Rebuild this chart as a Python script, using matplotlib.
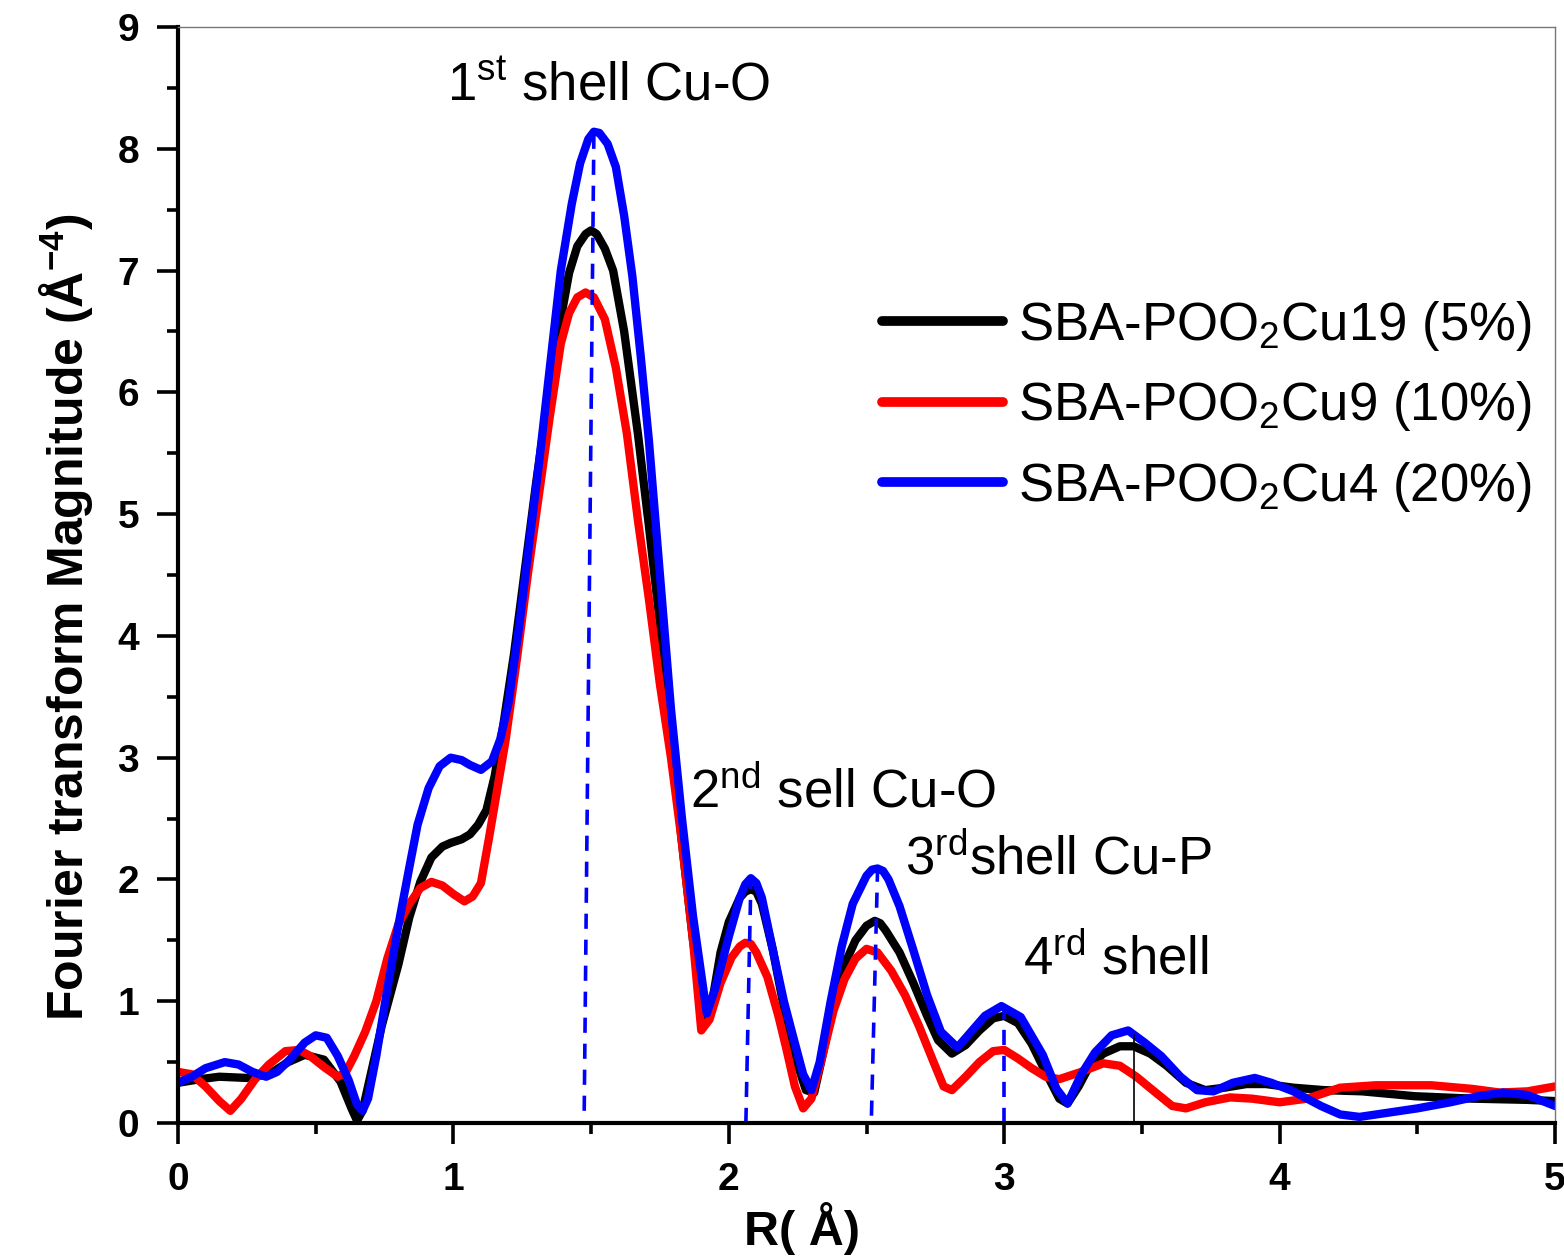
import matplotlib
matplotlib.use("Agg")
import matplotlib.pyplot as plt
from matplotlib.ticker import MultipleLocator

plt.rcParams['font.family'] = ['Liberation Sans', 'DejaVu Sans']
plt.rcParams['mathtext.fontset'] = 'custom'
plt.rcParams['mathtext.rm'] = 'Liberation Sans'
plt.rcParams['mathtext.it'] = 'Liberation Sans'
plt.rcParams['mathtext.bf'] = 'Liberation Sans:bold'
plt.rcParams['mathtext.default'] = 'regular'

# ---------------- data ----------------
labels = ['SBA-POO$_2$Cu19 (5%)', 'SBA-POO$_2$Cu9 (10%)', 'SBA-POO$_2$Cu4 (20%)']
colors = ['#000000', '#ff0000', '#0000ff']

r_black = [0.00, 0.08, 0.15, 0.25, 0.33, 0.40, 0.46, 0.53, 0.59, 0.63, 0.65, 0.67, 0.70, 0.74, 0.77,
           0.80, 0.84, 0.88, 0.92, 0.96, 0.99, 1.03, 1.06, 1.09, 1.12, 1.15, 1.18, 1.22, 1.26, 1.30,
           1.34, 1.38, 1.42, 1.45, 1.48, 1.50, 1.52, 1.55, 1.58, 1.62, 1.67, 1.71, 1.75, 1.79, 1.83,
           1.87, 1.91, 1.94, 1.97, 2.00, 2.04, 2.06, 2.08, 2.10, 2.12, 2.16, 2.20, 2.24, 2.28, 2.31,
           2.34, 2.38, 2.42, 2.46, 2.50, 2.53, 2.55, 2.57, 2.62, 2.67, 2.72, 2.76, 2.81, 2.86, 2.91,
           2.96, 3.00, 3.05, 3.10, 3.15, 3.20, 3.23, 3.27, 3.31, 3.36, 3.42, 3.47, 3.53, 3.59, 3.66,
           3.73, 3.80, 3.88, 3.95, 4.05, 4.16, 4.30, 4.49, 4.70, 4.90, 5.00]
m_black = [0.33, 0.36, 0.38, 0.37, 0.40, 0.50, 0.56, 0.52, 0.34, 0.12, 0.02, 0.10, 0.40, 0.80, 1.05,
           1.30, 1.69, 1.98, 2.18, 2.27, 2.30, 2.33, 2.37, 2.45, 2.57, 2.85, 3.25, 3.85, 4.55, 5.25,
           5.90, 6.48, 6.98, 7.20, 7.30, 7.33, 7.30, 7.18, 7.00, 6.50, 5.66, 4.90, 4.10, 3.20, 2.30,
           1.50, 0.87, 1.00, 1.40, 1.65, 1.85, 1.90, 1.92, 1.90, 1.80, 1.42, 0.95, 0.55, 0.27, 0.25,
           0.55, 0.98, 1.30, 1.50, 1.62, 1.66, 1.64, 1.58, 1.40, 1.15, 0.88, 0.68, 0.57, 0.64, 0.76,
           0.86, 0.88, 0.82, 0.65, 0.42, 0.20, 0.16, 0.30, 0.47, 0.57, 0.63, 0.63, 0.57, 0.47, 0.33,
           0.27, 0.29, 0.32, 0.32, 0.29, 0.27, 0.26, 0.22, 0.20, 0.19, 0.18]

r_red = [0.00, 0.05, 0.10, 0.15, 0.19, 0.23, 0.28, 0.33, 0.39, 0.44, 0.48, 0.53, 0.58, 0.61, 0.64,
         0.68, 0.72, 0.76, 0.80, 0.84, 0.88, 0.92, 0.96, 1.00, 1.04, 1.07, 1.10, 1.13, 1.16, 1.19,
         1.23, 1.27, 1.31, 1.35, 1.39, 1.42, 1.45, 1.48, 1.51, 1.55, 1.59, 1.63, 1.67, 1.71, 1.75,
         1.79, 1.83, 1.87, 1.90, 1.93, 1.97, 2.01, 2.04, 2.06, 2.08, 2.10, 2.14, 2.18, 2.21, 2.24,
         2.27, 2.30, 2.34, 2.38, 2.42, 2.46, 2.50, 2.54, 2.59, 2.64, 2.69, 2.74, 2.78, 2.81, 2.86,
         2.91, 2.96, 3.00, 3.05, 3.10, 3.15, 3.20, 3.28, 3.36, 3.42, 3.48, 3.55, 3.61, 3.66, 3.73,
         3.82, 3.90, 4.00, 4.10, 4.22, 4.35, 4.55, 4.70, 4.80, 4.90, 5.00]
m_red = [0.42, 0.40, 0.30, 0.18, 0.10, 0.20, 0.36, 0.48, 0.59, 0.60, 0.55, 0.46, 0.38, 0.42, 0.55,
         0.75, 1.00, 1.35, 1.63, 1.80, 1.93, 1.98, 1.95, 1.88, 1.82, 1.86, 1.97, 2.35, 2.75, 3.15,
         3.80, 4.50, 5.15, 5.80, 6.40, 6.65, 6.78, 6.82, 6.78, 6.60, 6.20, 5.66, 4.95, 4.30, 3.60,
         3.00, 2.30, 1.50, 0.76, 0.85, 1.15, 1.36, 1.45, 1.48, 1.47, 1.40, 1.20, 0.88, 0.60, 0.30,
         0.12, 0.20, 0.55, 0.92, 1.18, 1.35, 1.43, 1.40, 1.25, 1.05, 0.80, 0.52, 0.30, 0.27, 0.38,
         0.50, 0.59, 0.60, 0.53, 0.45, 0.38, 0.36, 0.42, 0.49, 0.47, 0.38, 0.25, 0.14, 0.12, 0.17,
         0.21, 0.20, 0.17, 0.20, 0.29, 0.31, 0.31, 0.28, 0.25, 0.26, 0.30]

r_blue = [0.00, 0.05, 0.10, 0.17, 0.22, 0.27, 0.32, 0.36, 0.41, 0.46, 0.50, 0.54, 0.58, 0.62, 0.65,
          0.67, 0.69, 0.72, 0.76, 0.80, 0.84, 0.87, 0.91, 0.95, 0.99, 1.03, 1.06, 1.10, 1.14, 1.17,
          1.20, 1.24, 1.28, 1.31, 1.35, 1.39, 1.43, 1.46, 1.49, 1.51, 1.53, 1.56, 1.59, 1.62, 1.65,
          1.68, 1.71, 1.75, 1.79, 1.83, 1.87, 1.92, 1.95, 2.00, 2.04, 2.06, 2.08, 2.10, 2.12, 2.16,
          2.20, 2.23, 2.27, 2.30, 2.33, 2.37, 2.41, 2.45, 2.50, 2.52, 2.54, 2.56, 2.58, 2.62, 2.67,
          2.72, 2.77, 2.83, 2.88, 2.93, 2.99, 3.06, 3.14, 3.19, 3.23, 3.28, 3.33, 3.39, 3.45, 3.51,
          3.57, 3.64, 3.70, 3.76, 3.83, 3.91, 3.97, 4.05, 4.15, 4.22, 4.29, 4.38, 4.50, 4.62, 4.72,
          4.81, 4.90, 5.00]
m_blue = [0.33, 0.38, 0.45, 0.50, 0.48, 0.42, 0.38, 0.42, 0.53, 0.66, 0.72, 0.70, 0.55, 0.35, 0.15,
          0.10, 0.20, 0.55, 1.10, 1.62, 2.10, 2.45, 2.75, 2.93, 3.00, 2.98, 2.94, 2.90, 2.97, 3.15,
          3.45, 4.10, 4.85, 5.40, 6.20, 7.00, 7.55, 7.88, 8.08, 8.14, 8.13, 8.04, 7.85, 7.45, 6.95,
          6.30, 5.60, 4.50, 3.40, 2.50, 1.70, 0.90, 1.10, 1.53, 1.85, 1.96, 2.01, 1.97, 1.85, 1.42,
          1.00, 0.74, 0.40, 0.27, 0.50, 1.00, 1.45, 1.80, 2.03, 2.08, 2.09, 2.07, 2.00, 1.78, 1.42,
          1.05, 0.75, 0.62, 0.75, 0.88, 0.96, 0.87, 0.56, 0.28, 0.16, 0.40, 0.58, 0.72, 0.76, 0.66,
          0.55, 0.38, 0.27, 0.26, 0.33, 0.37, 0.33, 0.26, 0.14, 0.07, 0.05, 0.08, 0.12, 0.17, 0.22,
          0.25, 0.23, 0.14]

# peak marker lines (bottom r, bottom value, top r, top value)
dash_r0 = [1.475, 2.062, 2.518, 3.000]
dash_y0 = [0.10, 0.00, 0.06, 0.00]
dash_r1 = [1.510, 2.080, 2.540, 3.000]
dash_y1 = [8.10, 1.98, 2.07, 0.93]
mark_r = 3.47
mark_top = 0.72

annot_text = ['1$^{st}$ shell Cu-O', '2$^{nd}$ sell Cu-O', '3$^{rd}$shell Cu-P', '4$^{rd}$ shell']
annot_r = [0.975, 1.86, 2.64, 3.07]
annot_y = [8.40, 2.59, 2.04, 1.22]

# ---------------- figure ----------------
fig = plt.figure(figsize=(15.64, 12.58), dpi=100)
ax = fig.add_axes([178/1564, 1 - 1123/1258, (1555-178)/1564, (1123-27)/1258])

series = [(r_black, m_black), (r_red, m_red), (r_blue, m_blue)]
for (r, m), c, lab in zip(series, colors, labels):
    ax.plot(r, m, color=c, lw=6, label=lab, solid_capstyle='round', solid_joinstyle='round')

for x0, y0, x1, y1 in zip(dash_r0, dash_y0, dash_r1, dash_y1):
    ax.plot([x0, x1], [y0, y1], color='#0000ff', lw=2.6, linestyle=(0, (4.2, 3.0)))
ax.plot([mark_r, mark_r], [0, mark_top], color='black', lw=1.2)

for t, xx, yy in zip(annot_text, annot_r, annot_y):
    ax.text(xx, yy, t, fontsize=38, ha='left', va='baseline', color='black')

ax.set_xlim(0, 5)
ax.set_ylim(0, 9)
ax.xaxis.set_major_locator(MultipleLocator(1))
ax.xaxis.set_minor_locator(MultipleLocator(0.5))
ax.yaxis.set_major_locator(MultipleLocator(1))
ax.yaxis.set_minor_locator(MultipleLocator(0.5))

for s in ['left', 'bottom']:
    ax.spines[s].set_linewidth(3.0)
    ax.spines[s].set_color('black')
for s in ['top', 'right']:
    ax.spines[s].set_linewidth(1.0)
    ax.spines[s].set_color('#777777')

ax.tick_params(which='major', direction='out', length=15, width=2.6, top=False, right=False,
               labelsize=28, pad=13)
ax.tick_params(which='minor', direction='out', length=8, width=2.6, top=False, right=False)
for lab in ax.get_xticklabels() + ax.get_yticklabels():
    lab.set_fontweight('bold')

ax.set_xlabel('R( Å)', fontsize=35, fontweight='bold')
ax.set_ylabel(r'Fourier transform Magnitude (Å$^{\mathbf{-4}}$)', fontsize=36, fontweight='bold')
ax.xaxis.set_label_coords((802 - 178) / 1377, -0.072)
ax.yaxis.set_label_coords(-0.060, (1123 - 617) / 1096)

leg = ax.legend(loc='upper left', bbox_to_anchor=(0.511, 0.752), frameon=False, fontsize=38,
                handlelength=2.3, handletextpad=0.28, labelspacing=0.5, borderaxespad=0, borderpad=0)
for h in leg.get_lines():
    h.set_linewidth(7)

fig.savefig('out.png', dpi=100)
